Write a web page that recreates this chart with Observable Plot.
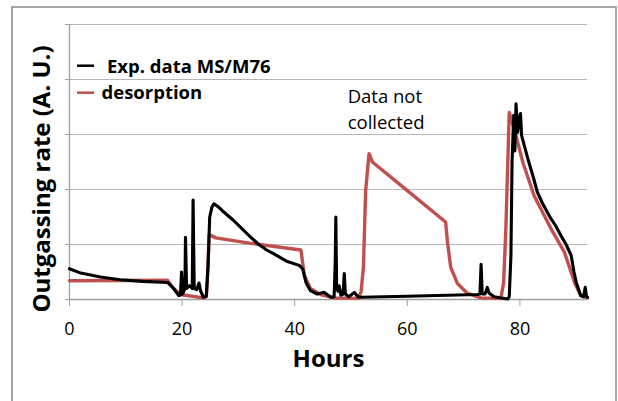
<!DOCTYPE html>
<html>
<head>
<meta charset="utf-8">
<script src="https://cdn.jsdelivr.net/npm/d3@7"></script>
<script src="https://cdn.jsdelivr.net/npm/@observablehq/plot@0.6"></script>
<style>
  html, body { margin: 0; padding: 0; background: #fff; }
  #chart { position: relative; width: 618px; height: 401px; overflow: hidden; }
</style>
</head>
<body>
<div id="chart"></div>
<script>
// ---- data ----
const expHours = [0, 2, 5.5, 9, 13, 17.4, 18.5, 19.4, 19.7, 19.9, 20.1, 20.5, 20.6, 20.8, 21.3, 21.8, 21.95, 22.15, 22.6, 23.0, 23.3, 23.8, 24.3, 24.6, 24.9, 25.3, 25.65, 26.5, 27.4, 29, 30.4, 32, 33.4, 35, 36.3, 38.7, 40.8, 41.4, 42.0, 42.8, 44.0, 45.2, 46.4, 47.0, 47.2, 47.3, 47.45, 47.7, 47.9, 48.2, 48.6, 48.8, 49.0, 49.6, 50.6, 51.2, 51.7, 60, 72.5, 72.9, 73.1, 73.3, 73.8, 74.2, 74.5, 75.4, 77.8, 78.1, 78.4, 78.6, 78.9, 79.1, 79.3, 79.6, 79.9, 80.1, 80.3, 81.4, 82.3, 83.1, 84, 85.5, 86.3, 87.3, 88.2, 89.1, 89.6, 90.0, 90.8, 91.3, 91.6, 91.8, 92];
const expValues = [0.56, 0.48, 0.41, 0.36, 0.33, 0.31, 0.2, 0.07, 0.08, 0.5, 0.1, 0.2, 1.13, 0.2, 0.25, 0.2, 1.81, 0.2, 0.18, 0.3, 0.15, 0.04, 0.06, 0.6, 1.5, 1.68, 1.74, 1.68, 1.59, 1.45, 1.31, 1.15, 1.02, 0.9, 0.83, 0.69, 0.62, 0.56, 0.31, 0.16, 0.1, 0.13, 0.04, 0.05, 0.7, 1.5, 0.2, 0.15, 0.25, 0.08, 0.1, 0.47, 0.1, 0.05, 0.13, 0.05, 0.04, 0.06, 0.09, 0.1, 0.64, 0.1, 0.1, 0.22, 0.12, 0.05, 0.01, 0.05, 0.8, 2.5, 3.35, 2.7, 3.56, 3.04, 3.3, 3.38, 2.98, 2.56, 2.25, 1.95, 1.75, 1.47, 1.35, 1.16, 1.0, 0.8, 0.5, 0.31, 0.07, 0.05, 0.22, 0.06, 0.04];

const desHours = [0, 17.4, 18.5, 19.7, 23.8, 24.3, 24.6, 24.8, 26, 32.2, 41.1, 41.7, 42.8, 44.6, 47, 51.3, 51.8, 52.2, 52.6, 53.2, 53.8, 60, 66.8, 67.1, 67.7, 68.9, 70.7, 73, 76.6, 77.1, 77.5, 78.1, 79.3, 80.5, 82.5, 85.5, 87.9, 89.7, 90.8, 92];
const desValues = [0.34, 0.35, 0.2, 0.09, 0.03, 0.05, 0.6, 1.18, 1.12, 1.02, 0.9, 0.44, 0.2, 0.09, 0.03, 0.02, 0.15, 0.59, 1.98, 2.65, 2.5, 1.98, 1.41, 1.07, 0.59, 0.29, 0.11, 0.03, 0.02, 0.3, 1.29, 3.4, 2.98, 2.5, 1.89, 1.29, 0.86, 0.31, 0.07, 0.03];

const xTicks = [0, 20, 40, 60, 80];
const yTicks = [0, 1, 2, 3, 4, 5];
const seriesNames = ["Exp. data MS/M76", "desorption"];
const seriesColors = ["#000000", "#c0504d"];
const xLabel = "Hours";
const yLabel = "Outgassing rate (A. U.)";
const noteText = "Data not\ncollected";

const exp = expHours.map((h, i) => ({hour: h, value: expValues[i]}));
const des = desHours.map((h, i) => ({hour: h, value: desValues[i]}));

const font = "'Open Sans', 'Noto Sans', sans-serif";

const plot = Plot.plot({
  width: 618,
  height: 401,
  marginTop: 24,
  marginRight: 31,
  marginBottom: 102,
  marginLeft: 69,
  style: {fontFamily: font, background: "#fff", color: "#000", overflow: "visible"},
  x: {domain: [0, 92]},
  y: {domain: [0, 5]},
  marks: [
    Plot.gridY(yTicks.slice(1), {stroke: "#b5b5b5", strokeOpacity: 1, strokeWidth: 1.2}),
    Plot.axisY(yTicks, {tickSize: 4, tickFormat: () => "", stroke: "#a0a0a0", label: null}),
    Plot.axisX(xTicks, {tickSize: 7, tickPadding: 16, fontSize: 18, stroke: "#a0a0a0", fill: "#000", label: null}),
    Plot.ruleY([0], {stroke: "#a0a0a0", strokeWidth: 1.3}),
    Plot.ruleX([0], {stroke: "#a0a0a0", strokeWidth: 1.3}),
    Plot.line(des, {x: "hour", y: "value", stroke: seriesColors[1], strokeWidth: 3.4, strokeLinejoin: "round"}),
    Plot.line(exp, {x: "hour", y: "value", stroke: seriesColors[0], strokeWidth: 3.1, strokeLinejoin: "round"}),
    Plot.text([noteText], {x: 49.4, y: 3.92, text: d => d, textAnchor: "start", lineAnchor: "top", fontSize: 18.5, lineHeight: 1.44, fill: "#000"}),
    Plot.text([xLabel], {frameAnchor: "bottom", dy: 67, text: d => d, textAnchor: "middle", fontSize: 24, fontWeight: "bold", fill: "#000"}),
    Plot.text([yLabel], {frameAnchor: "left", dx: -27, dy: 17, rotate: -90, text: d => d, textAnchor: "middle", lineAnchor: "middle", fontSize: 24, fontWeight: "bold", fill: "#000"})
  ]
});

document.getElementById("chart").appendChild(plot);

// outer border and legend
const svg = d3.select(plot);
svg.append("rect")
  .attr("x", 12).attr("y", 7).attr("width", 604).attr("height", 430)
  .attr("fill", "none").attr("stroke", "#8a8a8a").attr("stroke-width", 1.5);

const legend = svg.append("g")
  .attr("font-family", font).attr("font-weight", "bold").attr("font-size", 18.5)
  .attr("text-anchor", "start");
const legendRows = [
  {y: 65.7, textX: 107, baseline: 72.7},
  {y: 92.7, textX: 101.5, baseline: 99.3}
];
seriesNames.forEach((name, i) => {
  legend.append("line")
    .attr("x1", 77).attr("x2", 94).attr("y1", legendRows[i].y).attr("y2", legendRows[i].y)
    .attr("stroke", seriesColors[i]).attr("stroke-width", 2.5);
  legend.append("text")
    .attr("x", legendRows[i].textX).attr("y", legendRows[i].baseline)
    .attr("text-anchor", "start").attr("fill", "#000").text(name);
});
</script>
</body>
</html>
